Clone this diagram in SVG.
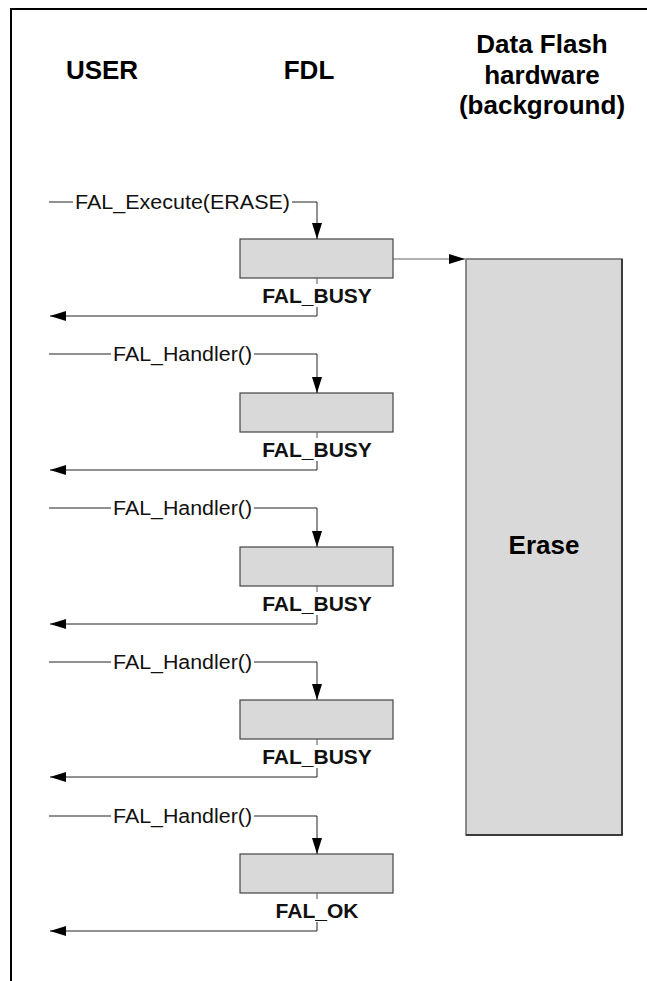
<svg xmlns="http://www.w3.org/2000/svg" width="647" height="981" viewBox="0 0 647 981">
<style>
.hdr{font-family:"Liberation Sans",Arial,sans-serif;font-weight:bold;font-size:26px;fill:#000;text-anchor:middle}
.call{font-family:"Liberation Sans",Arial,sans-serif;font-size:20px;fill:#111}
.ret{font-family:"Liberation Sans",Arial,sans-serif;font-weight:bold;font-size:21px;fill:#111;text-anchor:middle}
.box{fill:#d9d9d9;stroke:#444;stroke-width:1.2}
.ln{fill:none;stroke:#222;stroke-width:1}
.tick{fill:none;stroke:#555;stroke-width:1}
</style>
<defs>
<marker id="ah" markerWidth="16" markerHeight="10" refX="16" refY="5" orient="auto" markerUnits="userSpaceOnUse">
<path d="M0,0 L16,5 L0,10 Z" fill="#000"/>
</marker>
</defs>
<rect width="647" height="981" fill="#fff"/>
<path d="M11,990 L11,9 L660,9" fill="none" stroke="#000" stroke-width="2"/>
<g id="headers">
<text class="hdr" x="102" y="79">USER</text>
<text class="hdr" x="309" y="79">FDL</text>
<text class="hdr" x="542" y="53">Data Flash</text>
<text class="hdr" x="542" y="84">hardware</text>
<text class="hdr" x="542" y="114">(background)</text>
</g>
<g id="erase">
<rect x="466" y="259" width="156" height="576" fill="#d9d9d9" stroke="#6a6a6a" stroke-width="1.5"/>
<path d="M622,259 L622,835 L466,835" fill="none" stroke="#222" stroke-width="1.5"/>
<text class="hdr" x="544" y="554">Erase</text>
</g>
<g id="step1">
<rect class="box" x="240" y="239" width="153" height="39"/>
<text class="ret" x="317" y="303">FAL_BUSY</text>
</g>
<g id="step2">
<rect class="box" x="240" y="393" width="153" height="39"/>
<text class="ret" x="317" y="457">FAL_BUSY</text>
</g>
<g id="step3">
<rect class="box" x="240" y="547" width="153" height="39"/>
<text class="ret" x="317" y="611">FAL_BUSY</text>
</g>
<g id="step4">
<rect class="box" x="240" y="700" width="153" height="39"/>
<text class="ret" x="317" y="764">FAL_BUSY</text>
</g>
<g id="step5">
<rect class="box" x="240" y="854" width="153" height="39"/>
<text class="ret" x="317" y="918">FAL_OK</text>
</g>
<g id="connectors">
<path d="M393,259 L465,259" fill="none" stroke="#666" stroke-width="1.2" marker-end="url(#ah)"/>
<path class="ln" d="M49,202 L73,202"/>
<text class="call" x="75" y="209" textLength="215" lengthAdjust="spacingAndGlyphs">FAL_Execute(ERASE)</text>
<path class="ln" d="M292,202 L317,202 L317,239" marker-end="url(#ah)"/>
<path class="tick" d="M317,278 L317,284"/>
<path class="ln" d="M317,307 L317,316 L50,316" marker-end="url(#ah)"/>
<path class="ln" d="M49,354 L111,354"/>
<text class="call" x="113" y="361" textLength="139" lengthAdjust="spacingAndGlyphs">FAL_Handler()</text>
<path class="ln" d="M254,354 L317,354 L317,393" marker-end="url(#ah)"/>
<path class="tick" d="M317,432 L317,438"/>
<path class="ln" d="M317,461 L317,470 L50,470" marker-end="url(#ah)"/>
<path class="ln" d="M49,508 L111,508"/>
<text class="call" x="113" y="515" textLength="139" lengthAdjust="spacingAndGlyphs">FAL_Handler()</text>
<path class="ln" d="M254,508 L317,508 L317,547" marker-end="url(#ah)"/>
<path class="tick" d="M317,586 L317,592"/>
<path class="ln" d="M317,615 L317,624 L50,624" marker-end="url(#ah)"/>
<path class="ln" d="M49,662 L111,662"/>
<text class="call" x="113" y="669" textLength="139" lengthAdjust="spacingAndGlyphs">FAL_Handler()</text>
<path class="ln" d="M254,662 L317,662 L317,700" marker-end="url(#ah)"/>
<path class="tick" d="M317,739 L317,745"/>
<path class="ln" d="M317,768 L317,777 L50,777" marker-end="url(#ah)"/>
<path class="ln" d="M49,816 L111,816"/>
<text class="call" x="113" y="823" textLength="139" lengthAdjust="spacingAndGlyphs">FAL_Handler()</text>
<path class="ln" d="M254,816 L317,816 L317,854" marker-end="url(#ah)"/>
<path class="tick" d="M317,893 L317,899"/>
<path class="ln" d="M317,922 L317,931 L50,931" marker-end="url(#ah)"/>
</g>
</svg>
